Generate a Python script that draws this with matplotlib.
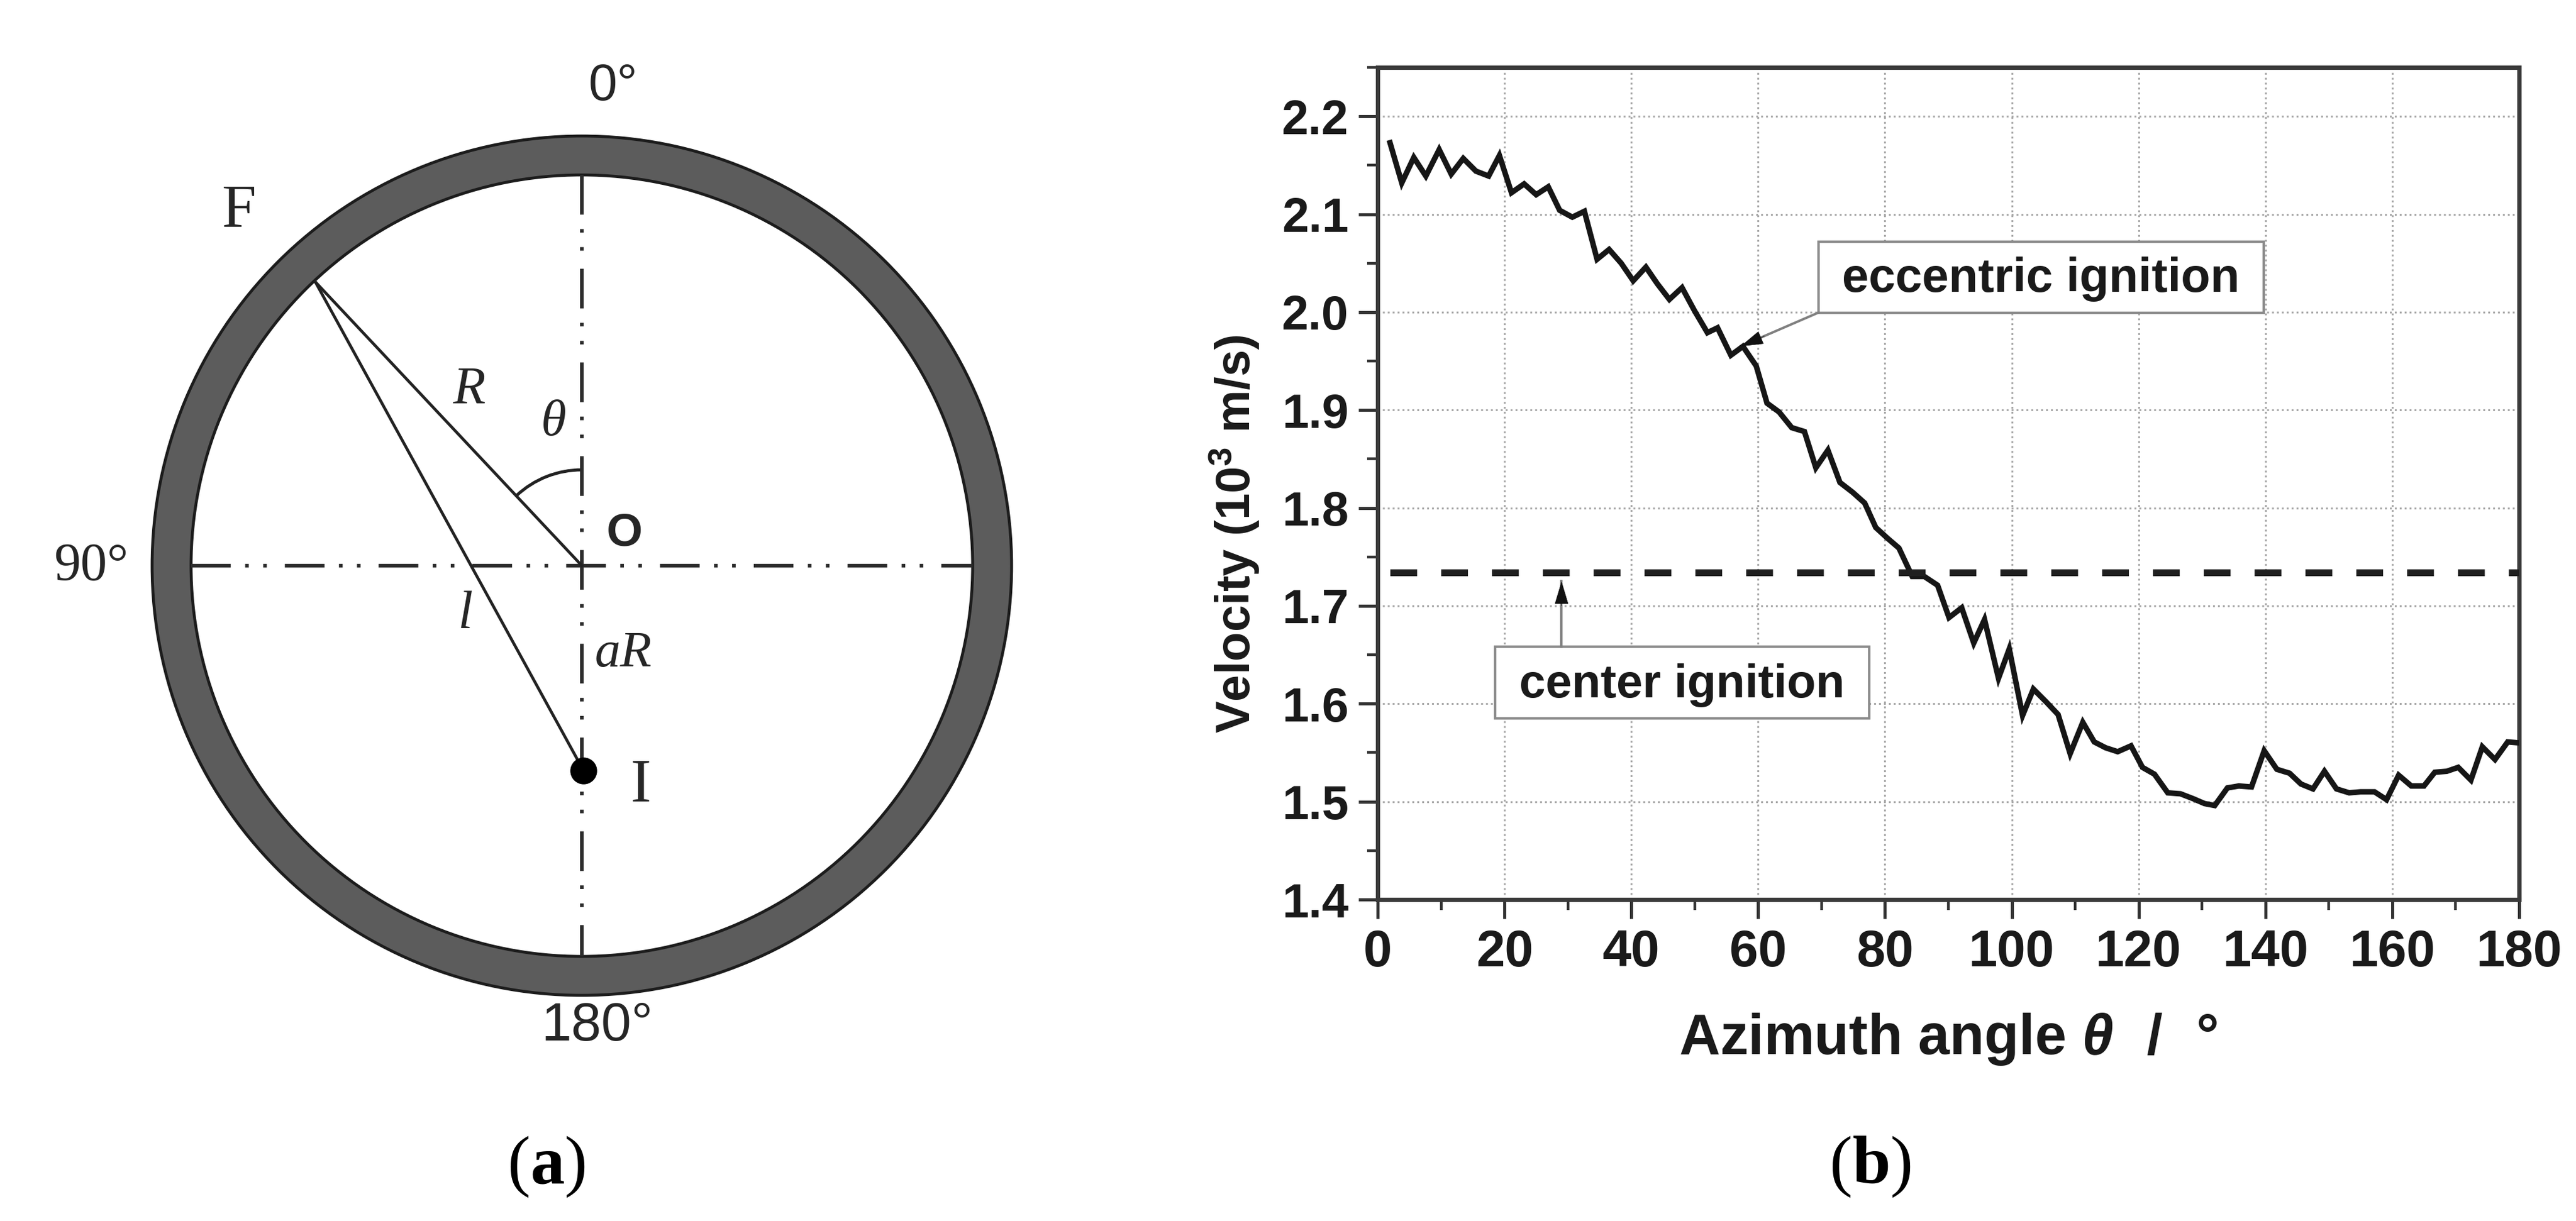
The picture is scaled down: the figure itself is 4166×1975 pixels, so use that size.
"""Eccentric ignition ring schematic (a) and azimuth velocity curve (b)."""
import matplotlib
matplotlib.use("Agg")
import matplotlib.pyplot as plt
from matplotlib.patches import Annulus, Arc, Circle, Rectangle
from matplotlib.ticker import MultipleLocator

W, H = 4166, 1975
DPI = 100

plt.rcParams["font.family"] = ["Liberation Sans", "DejaVu Sans"]
plt.rcParams["mathtext.fontset"] = "custom"
plt.rcParams["mathtext.rm"] = "Liberation Sans:bold"
plt.rcParams["mathtext.it"] = "Liberation Sans:italic:bold"
plt.rcParams["mathtext.bf"] = "Liberation Serif:bold"

# curve
angle = [1.95, 3.8, 5.7, 7.6, 9.7, 11.6, 13.5, 15.5, 17.5, 19.2,
         21.1, 23.1, 25.0, 26.9, 28.7, 30.7, 32.6, 34.6, 36.5, 38.4,
         40.3, 42.3, 44.1, 46.0, 48.0, 50.0, 52.0, 53.6, 55.7, 57.6,
         59.7, 61.4, 63.3, 65.3, 67.3, 69.1, 71.0, 72.9, 74.9, 76.8,
         78.55, 80.4, 82.2, 84.3, 86.2, 88.3, 90.1, 92.1, 94.0, 95.7,
         97.9, 99.6, 101.7, 103.4, 105.4, 107.3, 109.2, 111.2, 113.0, 114.8,
         116.7, 118.8, 120.6, 122.5, 124.6, 126.6, 128.6, 130.4, 132.0, 134.0,
         135.8, 137.8, 139.8, 141.8, 143.8, 145.6, 147.5, 149.3, 151.2, 153.2,
         155.0, 157.2, 159.1, 161.0, 163.0, 165.0, 166.7, 168.6, 170.4, 172.4,
         174.2, 176.2, 178.2, 180.0]
velocity = [2.173, 2.132, 2.158, 2.139, 2.166, 2.141, 2.157, 2.144, 2.139, 2.160,
            2.122, 2.131, 2.120, 2.128, 2.104, 2.097, 2.103, 2.054, 2.064, 2.050,
            2.032, 2.046, 2.029, 2.013, 2.025, 2.001, 1.979, 1.984, 1.956, 1.965,
            1.945, 1.907, 1.898, 1.882, 1.878, 1.841, 1.859, 1.826, 1.816, 1.805,
            1.780, 1.769, 1.759, 1.730, 1.730, 1.721, 1.688, 1.698, 1.662, 1.686,
            1.626, 1.656, 1.588, 1.615, 1.602, 1.589, 1.549, 1.581, 1.561, 1.555,
            1.551, 1.557, 1.535, 1.528, 1.509, 1.508, 1.503, 1.498, 1.496, 1.514,
            1.516, 1.515, 1.552, 1.533, 1.529, 1.518, 1.513, 1.531, 1.513, 1.509,
            1.510, 1.510, 1.502, 1.527, 1.516, 1.516, 1.530, 1.531, 1.535, 1.522,
            1.556, 1.543, 1.561, 1.560]
center_velocity = 1.734
x_ticks = [0, 20, 40, 60, 80, 100, 120, 140, 160, 180]
y_ticks = [1.4, 1.5, 1.6, 1.7, 1.8, 1.9, 2.0, 2.1, 2.2]

# schematic geometry, figure pixels
cx, cy = 941, 915
r_outer, r_inner = 695, 632
f_pt = (510, 456)
i_pt = (944, 1247)
centerline = (0, (11, 4, 1, 4, 1, 5))
ink = "#262626"

fig = plt.figure(figsize=(W / DPI, H / DPI), dpi=DPI, facecolor="white")


def callout(ax, start, tip, near):
    """Gray leader line with a black head at the tip."""
    ax.plot([start[0], tip[0]], [start[1], tip[1]], color="#808080", lw=2.8, zorder=2.5)
    ax.annotate("", xy=tip, xytext=near,
                arrowprops=dict(arrowstyle="-|>,head_length=1.0,head_width=0.3",
                                mutation_scale=25, color="#111111", lw=0.5,
                                shrinkA=0, shrinkB=0), zorder=3)


# --------------------------------------------------------------------------- #
# Panel (a)
# --------------------------------------------------------------------------- #
bg = fig.add_axes([0, 0, 1, 1])
bg.set_xlim(0, W)
bg.set_ylim(H, 0)
bg.axis("off")

bg.add_patch(Annulus((cx, cy), r_outer, r_outer - r_inner,
                     facecolor="#5c5c5c", edgecolor="#1c1c1c", lw=3.4))
bg.plot([cx, cx], [cy - r_inner, cy + r_inner], color="#2c2c2c", lw=4.2, ls=centerline)
bg.plot([cx - r_inner, cx + r_inner], [cy, cy], color="#2c2c2c", lw=4.2, ls=centerline)
bg.plot([f_pt[0], cx], [f_pt[1], cy], color="#222222", lw=3.4)
bg.plot([f_pt[0], i_pt[0]], [f_pt[1], i_pt[1]], color="#222222", lw=3.4)
bg.add_patch(Circle(i_pt, 21, color="black", zorder=4))
bg.add_patch(Arc((cx, cy), 310, 310, theta1=227, theta2=270, color="#222222", lw=3.6))

bg.text(992, 140, "0°", fontsize=60, color=ink, ha="center", va="center")
bg.text(966, 1660, "180°", fontsize=63, color=ink, ha="center", va="center")
serif = ["Liberation Serif", "DejaVu Serif"]
bg.text(147, 917, "90°", fontsize=62, color=ink, family=serif, ha="center", va="center")
bg.text(386, 342, "F", fontsize=72, color=ink, family=serif, ha="center", va="center")
bg.text(1036, 1272, "I", fontsize=72, color=ink, family=serif, ha="center", va="center")
bg.text(759, 632, "R", fontsize=62, color=ink, family=serif, style="italic", ha="center", va="center")
bg.text(895, 684, "θ", fontsize=60, color=ink, family=serif, style="italic", ha="center", va="center")
bg.text(752, 995, "l", fontsize=62, color=ink, family=serif, style="italic", ha="center", va="center")
bg.text(1008, 1058, "aR", fontsize=60, color=ink, family=serif, style="italic", ha="center", va="center")
bg.text(1010, 863, "O", fontsize=54, color=ink, weight="bold", ha="center", va="center")
bg.text(883, 1887, r"($\mathbf{a}$)", fontsize=80, color="black", family=serif, ha="center", va="center")
bg.text(3024, 1887, r"($\mathbf{b}$)", fontsize=80, color="black", family=serif, ha="center", va="center")

# --------------------------------------------------------------------------- #
# Panel (b)
# --------------------------------------------------------------------------- #
ax = fig.add_axes([2228 / W, 1 - 1455 / H, 1846 / W, 1346 / H])
ax.patch.set_alpha(0)
ax.set_xlim(0, 180)
ax.set_ylim(1.4, 2.25)
ax.set_xticks(x_ticks)
ax.set_yticks(y_ticks)
ax.set_xticklabels([str(v) for v in x_ticks])
ax.set_yticklabels([f"{v:.1f}" for v in y_ticks])
ax.xaxis.set_minor_locator(MultipleLocator(10))
ax.yaxis.set_minor_locator(MultipleLocator(0.05))
ax.tick_params(which="major", length=22, width=3.6, color="#333333", pad=12,
               labelsize=56, labelcolor="#1a1a1a")
ax.tick_params(axis="x", which="major", labelsize=60)
ax.tick_params(which="minor", length=12, width=3.2, color="#333333")
for lab in ax.get_xticklabels() + ax.get_yticklabels():
    lab.set_fontweight("bold")
for side in ax.spines.values():
    side.set_linewidth(5)
    side.set_color("#3a3a3a")
ax.grid(True, which="major", color="#a8a8a8", lw=2.2, ls=(0, (1, 1.6)))
ax.set_axisbelow(True)

ax.plot(angle, velocity, color="#161616", lw=6.4, solid_joinstyle="miter", zorder=3)
ax.axhline(center_velocity, color="#1f1f1f", lw=8, ls=(5.6, (3.9, 3.5)), zorder=3)

ax.set_xlabel(r"Azimuth angle $\theta\ \ /\ \ \mathrm{°}$", fontsize=66, fontweight="bold",
              color="#1a1a1a", labelpad=40)
ax.set_ylabel(r"Velocity (10$^{\mathrm{3}}$ m/s)", fontsize=56, fontweight="bold",
              color="#1a1a1a")
ax.yaxis.set_label_coords(-0.1018, 0.439)

# callout boxes hide the grid beneath them
ax.add_patch(Rectangle((69.5, 1.9995), 70.2, 0.0725, facecolor="white",
                       edgecolor="#8a8a8a", lw=2.8, zorder=2))
ax.text(104.6, 2.034, "eccentric ignition", fontsize=56, fontweight="bold",
        color="#1a1a1a", ha="center", va="center", zorder=4)
callout(ax, (69.5, 1.9995), (57.2, 1.965), (61.0, 1.9755))
ax.add_patch(Rectangle((18.5, 1.585), 59.0, 0.0735, facecolor="white",
                       edgecolor="#8a8a8a", lw=2.8, zorder=2))
ax.text(48, 1.619, "center ignition", fontsize=55, fontweight="bold",
        color="#1a1a1a", ha="center", va="center", zorder=4)
callout(ax, (29.0, 1.6585), (29.0, 1.725), (29.0, 1.70))

fig.savefig("out.png", dpi=DPI, facecolor="white")
